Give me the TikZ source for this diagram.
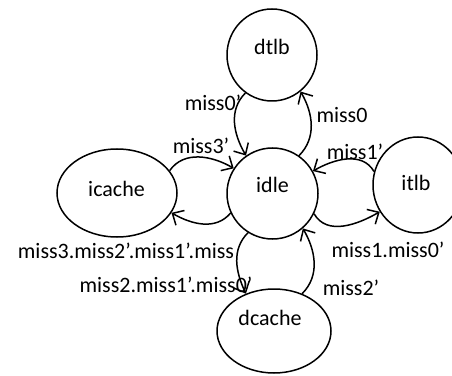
\documentclass[tikz,border=0pt]{standalone}
\usepackage{fontspec}
\setmainfont{Carlito}
\usetikzlibrary{shapes.geometric,arrows.meta}
\tikzset{
  state/.style={draw, ellipse, line width=1.5pt, inner sep=0pt},
  stname/.style={font=\fontsize{22}{26}\selectfont, inner sep=0pt},
  conn/.style={line width=1.5pt, -{Straight Barb[length=9pt,width=17pt]}},
  lbl/.style={font=\fontsize{22}{26}\selectfont, inner sep=0pt},
}
\begin{document}
\begin{tikzpicture}[x=1pt,y=1pt]
\useasboundingbox (0,0) rectangle (452,375);

% states
\node[state, minimum width=90pt, minimum height=92pt] (dtlb) at (272,320) {};
\node[state, minimum width=91pt, minimum height=91pt] (idle) at (272.5,181.5) {};
\node[state, minimum width=120pt, minimum height=88pt] (icache) at (117,182) {};
\node[state, minimum width=90pt, minimum height=96pt] (itlb) at (418,190) {};
\node[state, minimum width=114pt, minimum height=84pt] (dcache) at (274,44) {};

% state names
\node[stname] (tdtlb) at (272,328) {dtlb};
\node[stname] (tidle) at (272.5,190) {idle};
\node[stname] (ticache) at (116.5,186) {icache};
\node[stname] (titlb) at (416,192) {itlb};
\node[stname] (tdcache) at (270,57.5) {dcache};

% transitions
\draw[conn] (dtlb.235) to[out=225,in=120] (idle.125);
\draw[conn] (idle.55) to[out=45,in=-60] (dtlb.308);
\draw[conn] (icache.23) to[out=55,in=150] (idle.147);
\draw[conn] (idle.205) to[out=230,in=-30] (icache.340);
\draw[conn] (itlb.163) to[out=120,in=30] (idle.29);
\draw[conn] (idle.334) to[out=-60,in=210] (itlb.215);
\draw[conn] (idle.238) to[out=225,in=115] (dcache.127);
\draw[conn] (dcache.53) to[out=45,in=-60] (idle.311);

% transition labels
\node[lbl] (l1) at (213,272) {miss0’};
\node[lbl] (l2) at (342,259.5) {miss0};
\node[lbl] (l3) at (201,229) {miss3’};
\node[lbl] (l4) at (126,124) {miss3.miss2’.miss1’.miss};
\node[lbl] (l5) at (355,223) {miss1’};
\node[lbl] (l6) at (388,125) {miss1.miss0’};
\node[lbl] (l7) at (166,90) {miss2.miss1’.miss0’};
\node[lbl] (l8) at (351,87.5) {miss2’};
\end{tikzpicture}
\end{document}
